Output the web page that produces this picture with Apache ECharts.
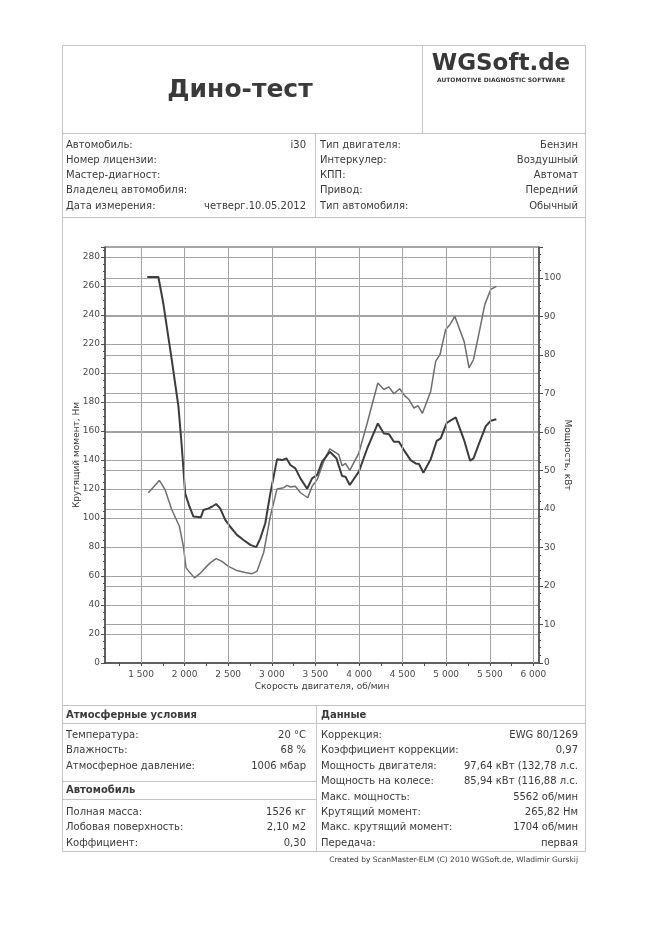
<!DOCTYPE html>
<html>
<head>
<meta charset="utf-8">
<script src="https://cdn.jsdelivr.net/npm/echarts@6/dist/echarts.min.js"></script>
<style>html,body{margin:0;padding:0;background:#fff;}#c{width:649px;height:935px;}</style>
</head>
<body>
<div id="c"></div>
<script>
// ---- data ----
const torqueRpm = [1572,1699,1756,1853,1929,1968,2006,2055,2101,2186,2216,2274,2312,2362,2408,2466,2523,2600,2676,2753,2822,2868,2925,2983,3060,3117,3167,3213,3270,3328,3405,3462,3520,3577,3665,3741,3806,3845,3894,3998,4094,4216,4285,4343,4400,4458,4515,4592,4649,4688,4738,4822,4891,4937,5006,5109,5205,5274,5313,5377,5454,5511,5575];
const torqueNm = [266.3,266.3,248,209,177,149,117,108,101,100.5,105.6,106.7,107.8,109.7,106.7,98.7,94,88.4,84.9,81.5,79.9,86,96.4,117,140.5,140,141.2,136.6,134.3,127.4,120.2,127.4,129.7,138.9,145.7,141.2,129,128.5,122.8,132,148,165.3,158.4,157.9,152.6,152.6,146.9,140,137.7,137.3,131.3,140.5,153.3,155,165.7,169.4,153.8,139.5,141.2,151.5,163.4,167.1,168.2];
const powerRpm = [1584,1710,1776,1853,1940,1986,2017,2063,2113,2186,2236,2293,2362,2427,2503,2600,2695,2772,2830,2906,2983,3060,3136,3175,3213,3270,3328,3412,3462,3520,3596,3665,3768,3806,3845,3894,3998,4094,4216,4285,4343,4400,4466,4523,4573,4630,4676,4726,4822,4879,4929,4994,5044,5098,5205,5262,5313,5377,5443,5511,5575];
const powerKw = [44.2,47.4,45,39.8,35.5,30.3,24.7,23.4,22.1,23.4,24.7,26,27.1,26.4,25.1,24,23.5,23.2,23.8,28.6,38.1,45.2,45.5,46.1,45.7,45.9,44.2,42.9,45.9,47.6,52.4,55.6,54.1,51.2,51.8,50,54.5,62.3,72.7,71,71.7,69.9,71.2,69.4,68.4,66.2,66.8,64.8,70.5,78.3,80.1,86.6,87.9,90,83.5,76.6,78.8,85.7,93.1,97,97.8];
const xTicks = [1500,2000,2500,3000,3500,4000,4500,5000,5500,6000];
const xMinorTicks = [1250,1500,1750,2000,2250,2500,2750,3000,3250,3500,3750,4000,4250,4500,4750,5000,5250,5500,5750,6000];

const title = 'Дино-тест';
const infoLeft = [['Автомобиль:','i30'],['Номер лицензии:',''],['Мастер-диагност:',''],['Владелец автомобиля:',''],['Дата измерения:','четверг.10.05.2012']];
const infoRight = [['Тип двигателя:','Бензин'],['Интеркулер:','Воздушный'],['КПП:','Автомат'],['Привод:','Передний'],['Тип автомобиля:','Обычный']];
const atmRows = [['Температура:','20 °C'],['Влажность:','68 %'],['Атмосферное давление:','1006 мбар']];
const carRows = [['Полная масса:','1526 кг'],['Лобовая поверхность:','2,10 м2'],['Коффициент:','0,30']];
const dataRows = [['Коррекция:','EWG 80/1269'],['Коэффициент коррекции:','0,97'],['Мощность двигателя:','97,64 кВт (132,78 л.с.'],['Мощность на колесе:','85,94 кВт (116,88 л.с.'],['Макс. мощность:','5562 об/мин'],['Крутящий момент:','265,82 Нм'],['Макс. крутящий момент:','1704 об/мин'],['Передача:','первая']];

// ---- build ----
const FONT = '"DejaVu Sans", Verdana, sans-serif';
const txtCol = '#3a3a3a';
const frameCol = '#c4c4c4';
const g = [];
function line(x1,y1,x2,y2,c,w){ g.push({type:'line',shape:{x1,y1,x2,y2},style:{stroke:c||frameCol,lineWidth:w||1},silent:true}); }
function text(t,x,y,opt){ opt=opt||{}; g.push({type:'text',x:x,y:y,silent:true,style:{text:t,fill:opt.fill||txtCol,font:(opt.weight||'normal')+' '+(opt.size||10)+'px '+FONT,textAlign:opt.align||'left',textVerticalAlign:'middle',align:opt.align||'left',verticalAlign:'middle'}}); }

// frame
line(62.5,45.5,585.5,45.5);
line(62.5,45.5,62.5,851.5);
line(585.5,45.5,585.5,851.5);
line(422.5,45.5,422.5,133.5);
line(62.5,133.5,585.5,133.5);
line(315.5,133.5,315.5,217.5);
line(62.5,217.5,585.5,217.5);
line(62.5,705.5,585.5,705.5);
line(316.5,705.5,316.5,851.5);
line(62.5,723.5,585.5,723.5);
line(62.5,781.5,316.5,781.5);
line(62.5,799.5,316.5,799.5);
line(62.5,851.5,585.5,851.5);

text(title,240,90,{size:25,weight:'bold',align:'center',fill:'#3a3a3a'});
text('WGSoft.de',501,64,{size:23,weight:'bold',align:'center',fill:'#383838'});
text('AUTOMOTIVE DIAGNOSTIC SOFTWARE',501,80,{size:6,weight:'bold',align:'center',fill:'#383838'});

const infoY = [145,160.3,175.5,190.8,206];
infoLeft.forEach((r,i)=>{ text(r[0],66,infoY[i]); if(r[1]) text(r[1],306,infoY[i],{align:'right'}); });
infoRight.forEach((r,i)=>{ text(r[0],320,infoY[i]); if(r[1]) text(r[1],578,infoY[i],{align:'right'}); });

text('Атмосферные условия',66,715,{weight:'bold'});
text('Данные',321,715,{weight:'bold'});
const atmY=[735,750.5,766];
atmRows.forEach((r,i)=>{ text(r[0],66,atmY[i]); text(r[1],306,atmY[i],{align:'right'}); });
text('Автомобиль',66,790.5,{weight:'bold'});
const carY=[812,827.5,843];
carRows.forEach((r,i)=>{ text(r[0],66,carY[i]); text(r[1],306,carY[i],{align:'right'}); });
const dataY=[735,750.5,766,781.5,797,812,827.5,843];
dataRows.forEach((r,i)=>{ text(r[0],321,dataY[i]); text(r[1],578,dataY[i],{align:'right'}); });
text('Created by ScanMaster-ELM (C) 2010 WGSoft.de, Wladimir Gurskij',578,860,{size:7.5,align:'right'});

const gridCol = '#a4a4a4';
const axisCol = '#4a4a4a';
const labelStyle = {color:'#4a4a4a',fontSize:9,fontFamily:FONT};

const option = {
  animation:false,
  backgroundColor:'#fff',
  graphic:g,
  grid:{left:105,right:110,top:247,bottom:272,show:true,borderColor:axisCol,borderWidth:1,containLabel:false},
  xAxis:{
    type:'value',min:1087,max:6064,
    name:'Скорость двигателя, об/мин',nameLocation:'middle',nameGap:19,nameMoveOverlap:false,
    nameTextStyle:{color:'#3a3a3a',fontSize:9,fontFamily:FONT},
    axisLine:{show:true,lineStyle:{color:axisCol,width:1.5}},
    axisTick:{show:true,customValues:xMinorTicks,length:3,lineStyle:{color:axisCol}},
    axisLabel:{customValues:xTicks,margin:7,...labelStyle,formatter:v=>{const s=String(v);return s.length>3?s.slice(0,s.length-3)+' '+s.slice(-3):s;}},
    splitLine:{show:false}
  },
  yAxis:[{
    type:'value',min:0,max:287,interval:20,position:'left',
    name:'Крутящий момент, Нм',nameLocation:'middle',nameGap:24,nameRotate:90,nameMoveOverlap:false,
    nameTextStyle:{color:'#3a3a3a',fontSize:9,fontFamily:FONT},
    axisLine:{show:true,lineStyle:{color:axisCol,width:1.5}},
    axisTick:{show:true,length:4,lineStyle:{color:axisCol}},
    minorTick:{show:true,splitNumber:4,length:2,lineStyle:{color:axisCol}},
    axisLabel:{margin:5,showMaxLabel:false,...labelStyle},
    splitLine:{show:true,lineStyle:{color:gridCol,width:1}}
  },{
    type:'value',min:0,max:108,interval:10,position:'right',
    name:'Мощность, кВт',nameLocation:'middle',nameGap:24,nameRotate:-90,nameMoveOverlap:false,
    nameTextStyle:{color:'#3a3a3a',fontSize:9,fontFamily:FONT},
    axisLine:{show:true,lineStyle:{color:axisCol,width:1.5}},
    axisTick:{show:true,length:4,lineStyle:{color:axisCol}},
    minorTick:{show:true,splitNumber:5,length:2,lineStyle:{color:axisCol}},
    axisLabel:{margin:5,showMaxLabel:false,...labelStyle},
    splitLine:{show:true,lineStyle:{color:gridCol,width:1}}
  }],
  series:[{
    type:'line',name:'Мощность',yAxisIndex:1,showSymbol:false,
    lineStyle:{color:'#6e6e6e',width:1.5},
    data:powerRpm.map((r,i)=>[r,powerKw[i]]),
    markLine:{silent:true,symbol:'none',label:{show:false},lineStyle:{color:gridCol,width:1,type:'solid'},data:xTicks.map(v=>({xAxis:v}))}
  },{
    type:'line',name:'Крутящий момент',yAxisIndex:0,showSymbol:false,
    lineStyle:{color:'#3c3c3c',width:2},
    data:torqueRpm.map((r,i)=>[r,torqueNm[i]])
  }]
};
const chart = echarts.init(document.getElementById('c'),null,{renderer:'canvas'});
chart.setOption(option);
</script>
</body>
</html>
